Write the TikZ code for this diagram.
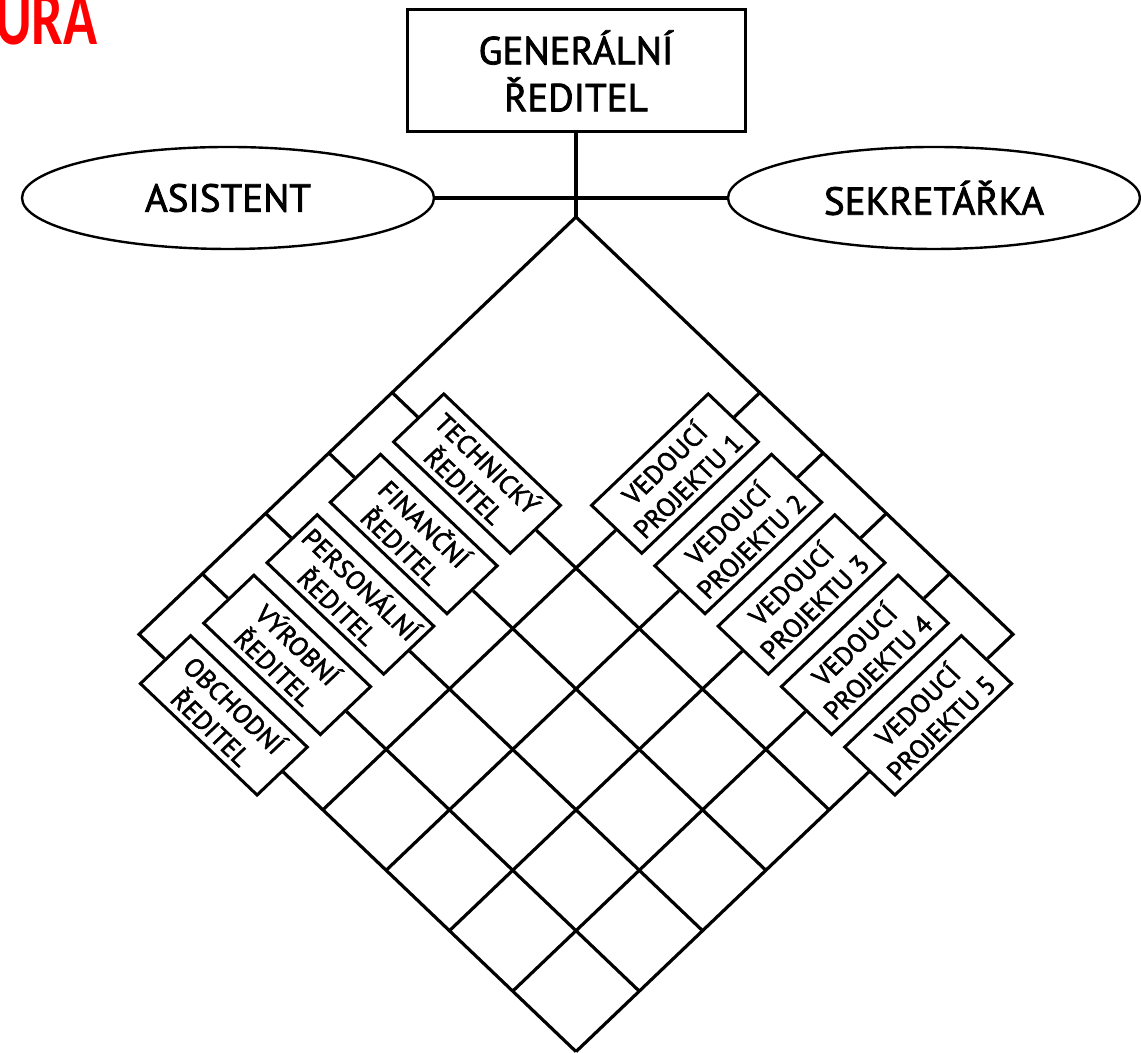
\documentclass[tikz,border=0pt]{standalone}
\usepackage{fontspec}
\setmainfont{PT Sans}
\newfontfamily\labelfont{PT Sans}[FakeBold=2]
\newfontfamily\titlefont{Carlito}
\usetikzlibrary{shapes.geometric}
\definecolor{titleColour}{RGB}{255,0,0}
\tikzset{
	mainLine/.style={line width=1.6pt},
	bossBox/.style={draw, line width=1.5pt, minimum width=169pt, minimum height=61pt, align=center, font=\labelfont\fontsize{19.5}{23.5}\selectfont},
	aideOval/.style={draw, ellipse, line width=1.2pt, minimum width=206pt, minimum height=51pt, font=\labelfont\fontsize{19.5}{23.5}\selectfont},
	deptBox/.style={draw, line width=1.5pt, minimum width=82.5pt, minimum height=35.5pt, inner sep=1pt, align=center, font=\labelfont\fontsize{13.5}{16.5}\selectfont}
}

\begin{document}
\begin{tikzpicture}[x=0.5pt, y=0.5pt]
		\useasboundingbox (0, 0) rectangle (1141, 1053);
		\clip (0, 0) rectangle (1141, 1053);

		% what is left of the slide title
		\node[anchor=base east, inner sep=0pt, text=titleColour, font=\titlefont\bfseries\fontsize{39}{44}\selectfont] (title) at (98, 1008) {\scalebox{0.72}[1]{URA}};

		% the head and the staff
		\node[bossBox] (gen) at (576, 982) {GENERÁLNÍ\\ŘEDITEL};
		\node[aideOval] (asis) at (228, 855) {ASISTENT};
		\node[aideOval] (sekr) at (934, 855) {SEKRETÁŘKA};
		\draw[mainLine] (asis.east) -- (sekr.west);

		% the matrix, drawn turned by 45 degrees
		\begin{scope}[shift={(576, 836)}, yscale=0.955, rotate=-45, transform shape]
			\coordinate (top) at (0, 0);
			\coordinate (leftEnd) at (0, -618);
			\coordinate (rightEnd) at (618, 0);
			\coordinate (bottom) at (618, -618);

			% functional directors
			\node[deptBox] (tech) at (120, -260) {TECHNICKÝ\\ŘEDITEL};
			\node[deptBox] (fin) at (120, -349.5) {FINANČNÍ\\ŘEDITEL};
			\node[deptBox] (pers) at (120, -439) {PERSONÁLNÍ\\ŘEDITEL};
			\node[deptBox] (vyr) at (120, -528.5) {VÝROBNÍ\\ŘEDITEL};
			\node[deptBox] (obch) at (120, -618) {OBCHODNÍ\\ŘEDITEL};

			% project leaders
			\node[deptBox, rotate=90] (proj1) at (260, -120) {VEDOUCÍ\\PROJEKTU 1};
			\node[deptBox, rotate=90] (proj2) at (349.5, -120) {VEDOUCÍ\\PROJEKTU 2};
			\node[deptBox, rotate=90] (proj3) at (439, -120) {VEDOUCÍ\\PROJEKTU 3};
			\node[deptBox, rotate=90] (proj4) at (528.5, -120) {VEDOUCÍ\\PROJEKTU 4};
			\node[deptBox, rotate=90] (proj5) at (618, -120) {VEDOUCÍ\\PROJEKTU 5};

			% ends of the ticks and of the matrix lines
			\coordinate (techIn) at (0, -260);  \coordinate (techOut) at (618, -260);
			\coordinate (finIn) at (0, -349.5); \coordinate (finOut) at (618, -349.5);
			\coordinate (persIn) at (0, -439);  \coordinate (persOut) at (618, -439);
			\coordinate (vyrIn) at (0, -528.5); \coordinate (vyrOut) at (618, -528.5);
			\coordinate (proj1In) at (260, 0);   \coordinate (proj1Out) at (260, -618);
			\coordinate (proj2In) at (349.5, 0); \coordinate (proj2Out) at (349.5, -618);
			\coordinate (proj3In) at (439, 0);   \coordinate (proj3Out) at (439, -618);
			\coordinate (proj4In) at (528.5, 0); \coordinate (proj4Out) at (528.5, -618);

			% outer lines
			\draw[mainLine] (top) -- (leftEnd) -- (obch.west);
			\draw[mainLine] (top) -- (rightEnd) -- (proj5.east);

			% ticks
			\draw[mainLine] (techIn) -- (tech.west);
			\draw[mainLine] (finIn) -- (fin.west);
			\draw[mainLine] (persIn) -- (pers.west);
			\draw[mainLine] (vyrIn) -- (vyr.west);
			\draw[mainLine] (proj1In) -- (proj1.east);
			\draw[mainLine] (proj2In) -- (proj2.east);
			\draw[mainLine] (proj3In) -- (proj3.east);
			\draw[mainLine] (proj4In) -- (proj4.east);

			% the grid
			\draw[mainLine] (tech.east) -- (techOut);
			\draw[mainLine] (fin.east) -- (finOut);
			\draw[mainLine] (pers.east) -- (persOut);
			\draw[mainLine] (vyr.east) -- (vyrOut);
			\draw[mainLine] (obch.east) -- (bottom);
			\draw[mainLine] (proj1.west) -- (proj1Out);
			\draw[mainLine] (proj2.west) -- (proj2Out);
			\draw[mainLine] (proj3.west) -- (proj3Out);
			\draw[mainLine] (proj4.west) -- (proj4Out);
			\draw[mainLine] (proj5.west) -- (bottom);
		\end{scope}

		% head down to the matrix
		\draw[mainLine] (gen.south) -- (top);
	\end{tikzpicture}
\end{document}
